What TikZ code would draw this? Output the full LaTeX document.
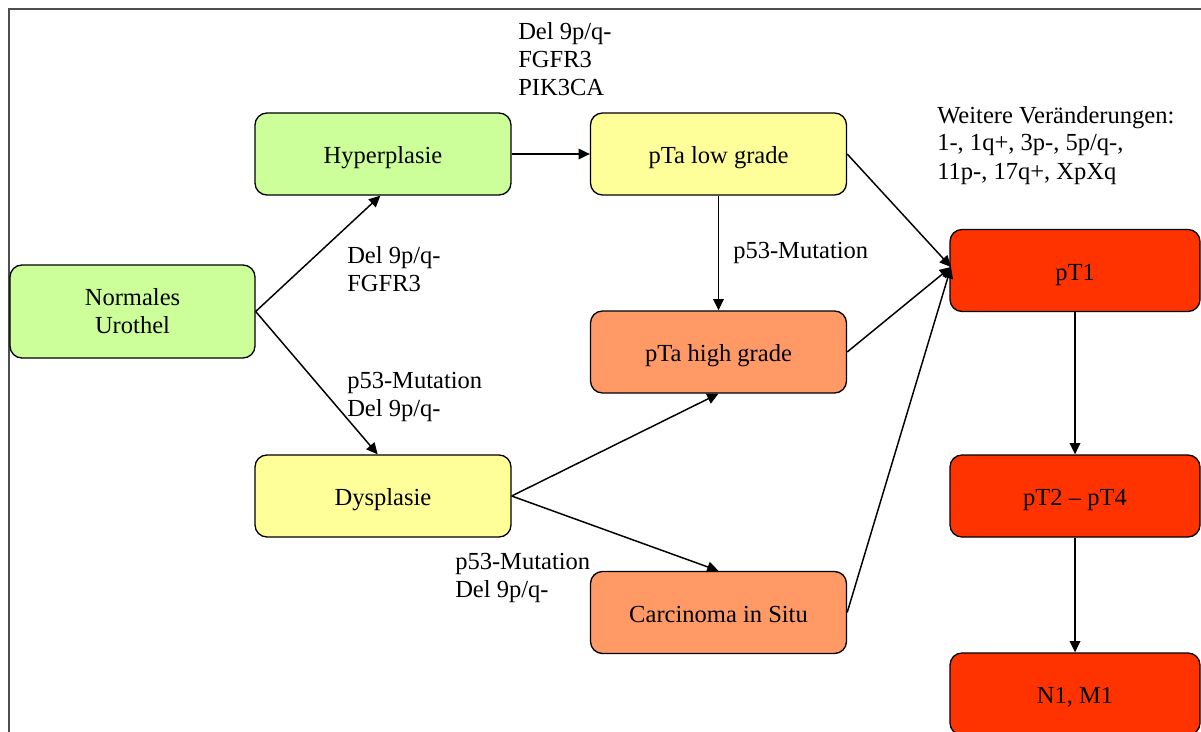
\documentclass[tikz,border=0pt]{standalone}
\usepackage{fontspec}
\setmainfont{Liberation Serif}
\usetikzlibrary{arrows.meta}
\definecolor{cgreen}{HTML}{CCFF99}
\definecolor{cyellow}{HTML}{FFFF99}
\definecolor{corange}{HTML}{FF9966}
\definecolor{cred}{HTML}{FF3300}
\definecolor{cframe}{HTML}{4D4D4D}
\begin{document}
\begin{tikzpicture}[x=0.75pt,y=-0.75pt,
  every node/.style={font=\fontsize{18.4}{21}\selectfont},
  box/.style={draw=black, line width=1pt, rounded corners=9pt, align=center,
    minimum width=192pt, minimum height=61.5pt, inner sep=0pt},
  onel/.style={text height=18.5pt, text depth=4pt},
  lbl/.style={anchor=base west, align=left, inner sep=0pt},
  arr/.style={line width=1.1pt, -{Triangle[length=8.5pt,width=8pt]}}
]
\useasboundingbox (0,0) rectangle (1201,731);
\draw[cframe, line width=1.5pt] (9,732) -- (9,9) -- (1202,9);

\node[box, fill=cgreen, minimum width=183.75pt, minimum height=69.75pt] (uro) at (132.5,311.5) {Normales\\Urothel};
\node[box, onel, fill=cgreen] (hyp) at (383,154) {Hyperplasie};
\node[box, onel, fill=cyellow] (dys) at (383,496) {Dysplasie};
\node[box, onel, fill=cyellow] (low) at (718.5,154) {pTa low grade};
\node[box, onel, fill=corange] (high) at (718.5,352) {pTa high grade};
\node[box, onel, fill=corange] (cis) at (718.5,612.5) {Carcinoma in Situ};
\node[box, onel, fill=cred, minimum width=187.5pt] (pt1) at (1075,270.5) {pT1};
\node[box, onel, fill=cred, minimum width=187.5pt] (pt24) at (1075,496) {pT2 -- pT4};
\node[box, onel, fill=cred, minimum width=187.5pt] (nm) at (1075,694) {N1, M1};

\coordinate (t1) at (951,267);

\draw[arr] (uro.east) -- ([xshift=-2pt]hyp.south);
\draw[arr] (uro.east) -- ([xshift=-4pt]dys.north);
\draw[arr] (hyp.east) -- (low.west);
\draw[arr] (low.south) -- (high.north);
\draw[arr] (dys.east) -- (high.south);
\draw[arr] (dys.east) -- (cis.north);
\draw[arr] (low.east) -- (t1);
\draw[arr] (high.east) -- (t1);
\draw[arr] (cis.east) -- (t1);
\draw[arr] (pt1.south) -- (pt24.north);
\draw[arr] (pt24.south) -- (nm.north);

\node[lbl] (l1) at (518,96) {Del 9p/q-\\FGFR3\\PIK3CA};
\node[lbl] (l2) at (347,291) {Del 9p/q-\\FGFR3};
\node[lbl] (l3) at (347,416) {p53-Mutation\\Del 9p/q-};
\node[lbl] (l4) at (733,258) {p53-Mutation};
\node[lbl] (l5) at (455,597) {p53-Mutation\\Del 9p/q-};
\node[lbl] (l6) at (937,179) {Weitere Veränderungen:\\1-, 1q+, 3p-, 5p/q-,\\11p-, 17q+, XpXq};
\end{tikzpicture}
\end{document}
